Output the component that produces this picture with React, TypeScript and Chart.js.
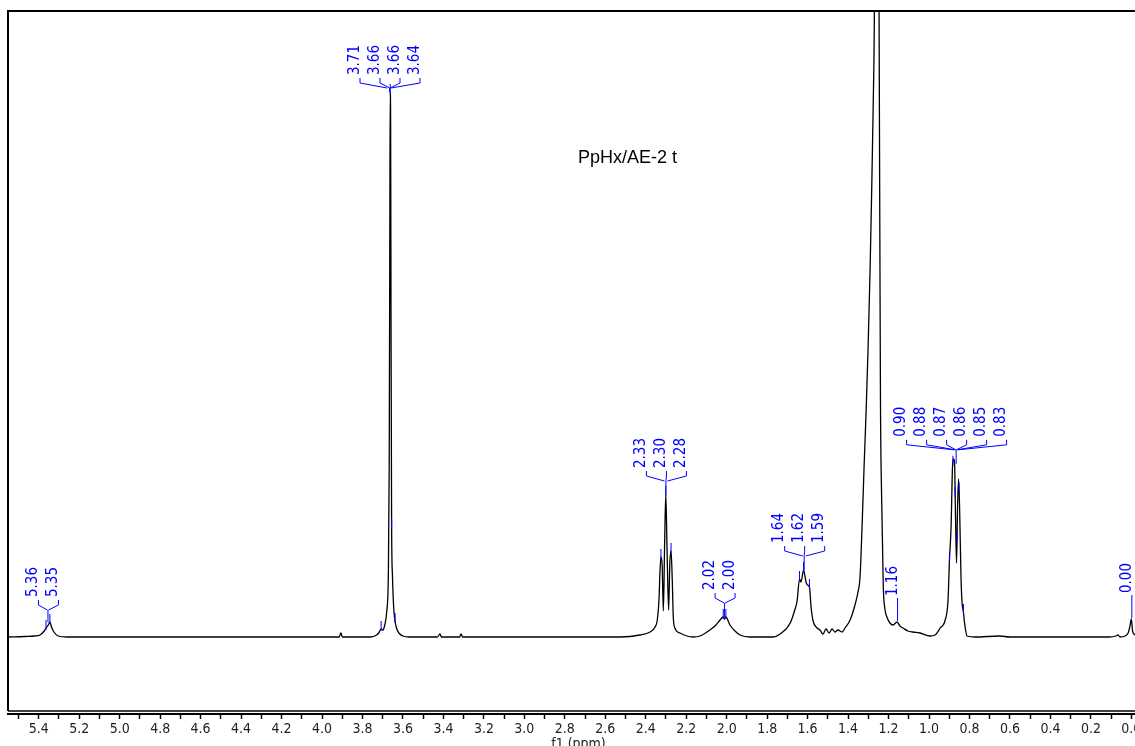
import React, { useEffect, useRef } from "react";
import { Chart, registerables } from "chart.js";

Chart.register(...registerables);

// ---- spectrum trace (chemical shift in ppm, intensity; baseline = 0) ----
const shiftPpm: number[] = [
  5.552, 5.47, 5.42, 5.394, 5.373, 5.364, 5.353, 5.345, 5.337, 5.325, 5.304, 5.26,
  4.5, 3.95, 3.915, 3.907, 3.899, 3.76, 3.73, 3.72, 3.708, 3.7, 3.69, 3.68, 3.672,
  3.668, 3.665, 3.663, 3.661, 3.659, 3.656, 3.652, 3.646, 3.639, 3.632, 3.62, 3.6,
  3.57, 3.43, 3.417, 3.41, 3.32, 3.313, 3.305, 2.6, 2.527, 2.428, 2.379, 2.354,
  2.343, 2.334, 2.33, 2.325, 2.319, 2.313, 2.307, 2.301, 2.295, 2.287, 2.281,
  2.275, 2.269, 2.264, 2.256, 2.231, 2.167, 2.132, 2.083, 2.053, 2.033, 2.017,
  2.011, 2.004, 1.984, 1.959, 1.934, 1.884, 1.771, 1.736, 1.686, 1.662, 1.652,
  1.64, 1.633, 1.62, 1.608, 1.601, 1.591, 1.583, 1.573, 1.553, 1.539, 1.524,
  1.509, 1.494, 1.479, 1.465, 1.45, 1.43, 1.415, 1.39, 1.366, 1.351, 1.341,
  1.331, 1.321, 1.311, 1.301, 1.291, 1.284, 1.276, 1.27, 1.264, 1.259, 1.253,
  1.247, 1.243, 1.24, 1.234, 1.226, 1.218, 1.208, 1.193, 1.178, 1.158, 1.144,
  1.129, 1.104, 1.08, 1.045, 0.995, 0.97, 0.945, 0.92, 0.906, 0.899, 0.891,
  0.884, 0.879, 0.874, 0.869, 0.864, 0.859, 0.854, 0.849, 0.842, 0.837, 0.83,
  0.825, 0.812, 0.773, 0.65, 0.6, 0.11, 0.076, 0.066, 0.056, 0.031, 0.016,
  0.006, 0.0, -0.006, -0.018,
];
const intensity: number[] = [
  0, 0.5, 1, 2, 6, 9, 12, 15, 10, 5, 1, 0,
  0, 0, 0, 4, 0, 0, 2, 4, 8, 7, 12, 26, 65,
  170, 400, 545, 520, 320, 110, 62, 30, 16, 9, 4, 1,
  0, 0, 3, 0, 0, 3, 0, 0, 0, 2, 5, 10,
  17, 40, 64, 80, 72, 26, 90, 143, 90, 27, 74,
  86, 57, 20, 9, 4, 0, 1, 7, 12, 17, 20,
  18, 20, 12, 6, 2, 0, 0, 3, 14, 28, 36,
  58, 55, 67, 55, 52, 50, 30, 16, 9, 7, 3,
  8, 4, 8, 5, 7, 5, 9, 17, 32, 45, 60,
  110, 170, 225, 290, 370, 440, 530, 626, 900, 1200, 1000,
  630, 400, 237, 137, 50, 28, 20, 14, 12, 15, 11,
  9, 6, 5, 4, 1, 2, 9, 17, 37, 77, 110,
  170, 178, 175, 120, 74, 130, 158, 130, 60, 35, 25,
  15, 1, 0, 1, 0, 0, 1, 2, 0, 1, 4,
  12, 18, 6, 2,
];

// ---- peak picking labels ----
const peakLabels: string[][] = [
  ["5.36", "5.35"],
  ["3.71", "3.66", "3.66", "3.64"],
  ["2.33", "2.30", "2.28"],
  ["2.02", "2.00"],
  ["1.64", "1.62", "1.59"],
  ["1.16"],
  ["0.90", "0.88", "0.87", "0.86", "0.85", "0.83"],
  ["0.00"],
];
const peakShifts: number[][] = [
  [5.364, 5.345],
  [3.708, 3.663, 3.656, 3.639],
  [2.325, 2.301, 2.275],
  [2.017, 2.004],
  [1.64, 1.62, 1.591],
  [1.158],
  [0.899, 0.882, 0.871, 0.862, 0.852, 0.83],
  [0.0],
];

const sampleName = "PpHx/AE-2 t";
const axisTitle = "f1 (ppm)";
const axisMin = -0.018;
const axisMax = 5.552;
const tickStep = 0.1;
const intensityMin = -77;
const intensityMax = 626;

// ---- layout / style ----
const BLUE = "rgb(0,0,255)";
const labelFont = '15px "Liberation Sans Narrow", "DejaVu Sans Condensed", "Arial Narrow", sans-serif';
const tickFontFamily = '"Liberation Sans Narrow", "DejaVu Sans Condensed", "Arial Narrow", sans-serif';
const labelLift = [25, 17, 26, 27, 27, 26, 27, 26];
const labelSpacing = 20;

function curveValueAt(ppm: number): number {
  for (let i = 0; i < shiftPpm.length - 1; i++) {
    const a = shiftPpm[i];
    const b = shiftPpm[i + 1];
    if (a >= ppm && ppm >= b) {
      const t = a === b ? 0 : (a - ppm) / (a - b);
      return intensity[i] + t * (intensity[i + 1] - intensity[i]);
    }
  }
  return 0;
}

const decorPlugin = {
  id: "nmrDecor",
  afterDatasetsDraw(chart: any) {
    const { ctx, chartArea } = chart;
    const xs = chart.scales.x;
    const ys = chart.scales.y;
    ctx.save();

    // frame
    ctx.strokeStyle = "#000";
    ctx.lineWidth = 2;
    ctx.beginPath();
    ctx.moveTo(chartArea.left, chartArea.bottom - 3);
    ctx.lineTo(chartArea.left, chartArea.top);
    ctx.lineTo(chartArea.right, chartArea.top);
    ctx.stroke();
    ctx.lineWidth = 1.5;
    ctx.beginPath();
    ctx.moveTo(chartArea.left, chartArea.bottom - 3);
    ctx.lineTo(chartArea.right, chartArea.bottom - 3);
    ctx.stroke();

    // sample name
    ctx.fillStyle = "#000";
    ctx.font = '18px "Liberation Sans", Arial, sans-serif';
    ctx.textAlign = "left";
    ctx.textBaseline = "alphabetic";
    ctx.fillText(sampleName, chartArea.left + 570, chartArea.top + 152);

    // axis title
    ctx.font = "14px " + tickFontFamily;
    ctx.textAlign = "center";
    ctx.textBaseline = "middle";
    ctx.fillStyle = "#222";
    ctx.fillText(axisTitle, (chartArea.left + chartArea.right) / 2 + 7, chartArea.bottom + 30);

    // peak labels
    ctx.strokeStyle = BLUE;
    ctx.fillStyle = BLUE;
    ctx.lineWidth = 1;
    ctx.font = labelFont;
    peakLabels.forEach((labels, g) => {
      const shifts = peakShifts[g];
      const px = shifts.map((s) => xs.getPixelForValue(s));
      const tops = shifts.map((s) => ys.getPixelForValue(curveValueAt(s)));
      const top = Math.min(...tops);
      const cx = px.reduce((a, b) => a + b, 0) / px.length;
      const textBottom = top - labelLift[g];
      const n = labels.length;
      if (n === 1) {
        ctx.save();
        ctx.translate(cx, textBottom);
        ctx.rotate(-Math.PI / 2);
        ctx.textAlign = "left";
        ctx.textBaseline = "alphabetic";
        ctx.fillText(labels[0], 0, 0);
        ctx.restore();
        ctx.beginPath();
        ctx.moveTo(cx + 0.5, textBottom + 2);
        ctx.lineTo(cx + 0.5, top - 1);
        ctx.stroke();
        return;
      }
      const convY = textBottom + 13;
      labels.forEach((lab, i) => {
        const lx = cx + (i - (n - 1) / 2) * labelSpacing;
        ctx.save();
        ctx.translate(lx - 1, textBottom);
        ctx.rotate(-Math.PI / 2);
        ctx.textAlign = "left";
        ctx.textBaseline = "alphabetic";
        ctx.fillText(lab, 0, 0);
        ctx.restore();
        const endX = cx + (px[i] - cx) * 0.3;
        ctx.beginPath();
        ctx.moveTo(lx + 0.5, textBottom + 3);
        ctx.lineTo(lx + 0.5, textBottom + 8);
        ctx.lineTo(endX, convY);
        ctx.stroke();
        // marker on peak
        ctx.beginPath();
        ctx.moveTo(px[i], tops[i] - 8);
        ctx.lineTo(px[i], tops[i] + 2);
        ctx.stroke();
      });
      ctx.beginPath();
      ctx.moveTo(cx, convY);
      ctx.lineTo(cx, top);
      ctx.stroke();
    });

    ctx.restore();
  },
};

export default function App() {
  const canvasRef = useRef<HTMLCanvasElement>(null);

  useEffect(() => {
    const canvas = canvasRef.current;
    if (!canvas) return;
    const points = shiftPpm.map((x, i) => ({ x, y: intensity[i] }));
    const chart = new Chart(canvas, {
      type: "line",
      data: {
        datasets: [
          {
            data: points,
            borderColor: "#000",
            borderWidth: 1.3,
            pointRadius: 0,
            fill: false,
            cubicInterpolationMode: "monotone",
          },
        ],
      },
      options: {
        animation: false,
        responsive: false,
        devicePixelRatio: 1,
        layout: { padding: { left: 8, top: 11, right: 0, bottom: 0 } },
        plugins: {
          legend: { display: false },
          tooltip: { enabled: false },
          title: { display: false },
        },
        events: [],
        scales: {
          x: {
            type: "linear",
            position: "bottom",
            reverse: true,
            min: axisMin,
            max: axisMax,
            border: { display: true, color: "#000", width: 2 },
            grid: {
              drawOnChartArea: false,
              drawTicks: true,
              tickLength: 5,
              tickWidth: 1.5,
              tickColor: "#000",
              color: "#000",
            },
            ticks: {
              stepSize: tickStep,
              maxTicksLimit: 100,
              includeBounds: false,
              autoSkip: false,
              maxRotation: 0,
              minRotation: 0,
              padding: 2,
              color: "#222",
              font: { family: tickFontFamily, size: 14 },
              callback: (value: any) => {
                const k = Math.round(Number(value) * 10);
                return k % 2 === 0 ? (k / 10).toFixed(1) : "";
              },
            },
            afterFit: (scale: any) => {
              scale.height = 32;
              scale.paddingLeft = 0;
              scale.paddingRight = 0;
            },
          },
          y: {
            type: "linear",
            display: false,
            min: intensityMin,
            max: intensityMax,
          },
        },
      },
      plugins: [decorPlugin],
    } as any);
    return () => chart.destroy();
  }, []);

  return (
    <div style={{ position: "absolute", left: 0, top: 0, width: 1135, height: 746, background: "#fff" }}>
      <canvas ref={canvasRef} width={1135} height={746} style={{ display: "block" }} />
    </div>
  );
}
